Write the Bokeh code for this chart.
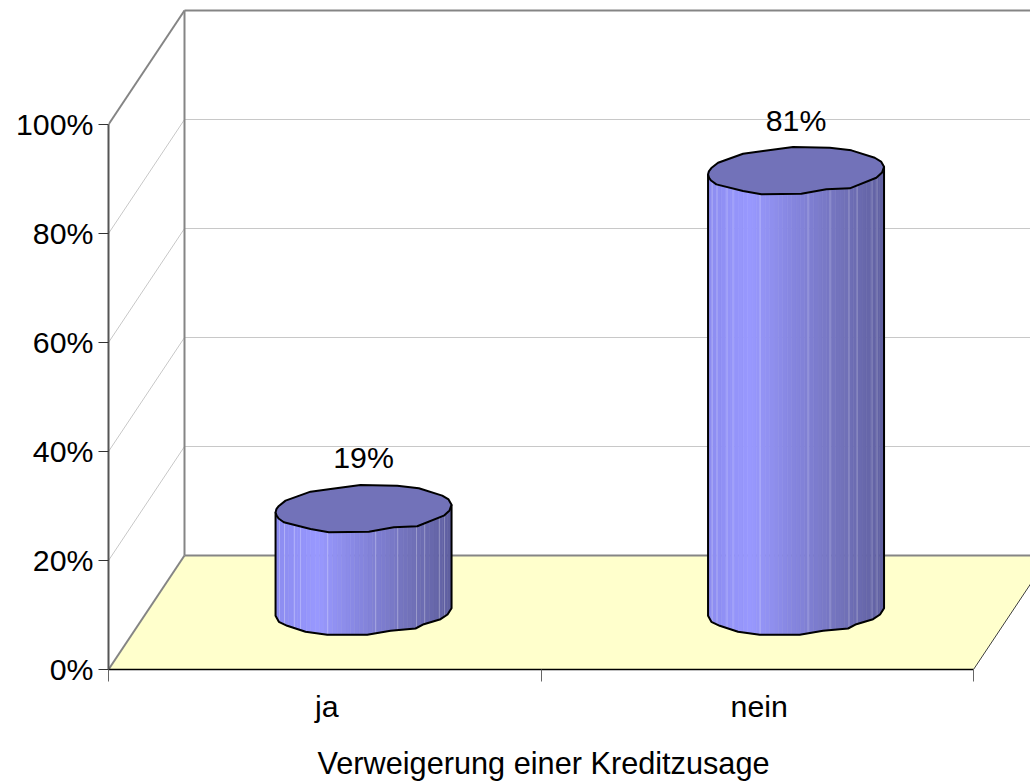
import numpy as np
from bokeh.embed import file_html
from bokeh.models import FixedTicker, LinearAxis, Range1d, Title
from bokeh.plotting import figure
from bokeh.resources import INLINE
from bokeh.core.properties import value

categories = ["ja", "nein"]
values = [19, 81]
value_labels = ["19%", "81%"]
y_ticks = [0, 20, 40, 60, 80, 100]
y_tick_labels = ["0%", "20%", "40%", "60%", "80%", "100%"]
x_title = "Verweigerung einer Kreditzusage"

FONT = "Liberation Sans"
FS = "30.3px"
SX, SY = 432.5, 5.45          # pixels per category / per percent
DEPTH_X, DEPTH_Y = 76 / SX, 114 / SY

# outline of the faceted cylinder cap, in pixels around its centre
cap_dx = np.array([-88, -87, -84.7, -78, -53, -33, -3, 33.7, 55.3, 78.7, 85, 88, 86, 80.3, 53.7, 30.3, 5.3, -34.7, -53, -79.7, -85, -87])
cap_dy = np.array([3.3, 0, -3, -8.3, -17.3, -20, -24, -23.3, -20.7, -13.3, -9.5, -4.3, 1.5, 6.7, 17.3, 18.3, 22.7, 23.3, 20, 13.3, 9.5, 6.7])
front_dx = np.array([-88, -84.7, -76.3, -58, -36.3, 3.7, 27, 52, 60.3, 77, 84, 88])
front_dy = np.array([3.3, 9.3, 13.3, 19.3, 22.3, 22.3, 18.3, 16, 11.7, 6.7, 2, -4.3])
seams = [-84, -79, -69, -63, -36, 12, 34, 53, 61, 76, 81]

p = figure(frame_width=922, frame_height=669, min_border_left=108, min_border_bottom=115,
           min_border_top=0, min_border_right=0, output_backend="svg", toolbar_location=None,
           x_range=Range1d(0, 922 / SX), y_range=Range1d(0, 669 / SY),
           x_axis_type=None, y_axis_type=None, outline_line_color=None,
           background_fill_color="white", border_fill_color="white")
p.grid.visible = False

far = len(categories) + DEPTH_X + 0.2
n = len(categories)

# floor
p.patch([0, n, n + DEPTH_X, DEPTH_X], [0, 0, DEPTH_Y, DEPTH_Y], fill_color="#FFFFCC", line_color=None)

# grid lines on the side and back walls
for t in y_ticks[1:-1]:
    p.line([0, DEPTH_X, far], [t, t + DEPTH_Y, t + DEPTH_Y], line_color="#C8C8C8", line_width=1)

# wall edges
wall = dict(line_color="#858585", line_width=2)
p.line([0, DEPTH_X], [100, 100 + DEPTH_Y], **wall)
p.line([DEPTH_X, far], [100 + DEPTH_Y, 100 + DEPTH_Y], **wall)
p.line([DEPTH_X, DEPTH_X], [DEPTH_Y, 100 + DEPTH_Y], **wall)
p.line([0, DEPTH_X], [0, DEPTH_Y], **wall)
p.line([DEPTH_X, far], [DEPTH_Y, DEPTH_Y], **wall)
p.line([n, n + DEPTH_X], [0, DEPTH_Y], line_color="#404040", line_width=1)

# cylinders
stops = [0.0, 0.24, 0.5, 0.75, 1.0]
reds = [140, 153, 133, 115, 96]
blues = [240, 255, 221, 188, 160]
edges = np.linspace(-88, 88, 41)
for i, v in enumerate(values):
    cx = i + 0.5 + DEPTH_X / 2 + 0.8 / SX
    base = DEPTH_Y / 2
    top = base + v
    xs, ys, cols = [], [], []
    for a, b in zip(edges[:-1], edges[1:]):
        grid = np.linspace(a, b, 4)
        bottom = base - np.interp(grid, front_dx, front_dy) / SY
        xs.append(list(cx + grid / SX) + [cx + b / SX, cx + a / SX])
        ys.append(list(bottom) + [top, top])
        f = ((a + b) / 2 + 88) / 176
        r = int(np.interp(f, stops, reds))
        bl = int(np.interp(f, stops, blues))
        cols.append(f"#{r:02x}{r:02x}{bl:02x}")
    p.patches(xs, ys, fill_color=cols, line_color=cols, line_width=0.6)
    for s in seams:
        low = base - np.interp(s, front_dx, front_dy) / SY
        p.line([cx + s / SX] * 2, [low, top], line_color="white", line_alpha=0.28, line_width=1)
    out_x = np.concatenate([[-88], front_dx, [88]])
    out_y = np.concatenate([[cap_dy[0] - v * SY], front_dy, [-4.3 - v * SY]])
    p.line(cx + out_x / SX, base - out_y / SY, line_color="black", line_width=2, line_join="round")
    p.patch(cx + cap_dx / SX, top - cap_dy / SY, fill_color="#7272B9", line_color="black", line_width=2,
            line_join="round")

# value labels
p.text([i + 0.5 + DEPTH_X / 2 + 0.8 / SX for i in range(n)], [DEPTH_Y / 2 + v for v in values],
       text=value_labels, text_font=value(FONT), text_font_size=FS, text_color="black",
       text_align="center", text_baseline="middle", y_offset=-51)

# axes
ya = LinearAxis(ticker=FixedTicker(ticks=y_ticks), bounds=(0, 100),
                major_label_overrides={t: l for t, l in zip(y_ticks, y_tick_labels)},
                major_label_text_font=FONT, major_label_text_font_size=FS, major_label_text_color="black",
                axis_line_color="#555555", axis_line_width=2, major_tick_line_color="#333333",
                major_tick_out=10, major_tick_in=0, minor_tick_line_color=None, major_label_standoff=5)
p.add_layout(ya, "left")

label_ticks = [i + 0.5 + 2 / SX for i in range(n)]
xa = LinearAxis(ticker=FixedTicker(ticks=label_ticks, minor_ticks=list(range(n + 1))),
                bounds=(0, n),
                major_label_overrides={t: c for t, c in zip(label_ticks, categories)},
                major_label_text_font=FONT, major_label_text_font_size=FS, major_label_text_color="black",
                axis_line_color="black", axis_line_width=1.5, major_tick_line_color=None,
                minor_tick_line_color="#666666", minor_tick_out=12, minor_tick_in=0, major_tick_out=0, major_tick_in=0,
                major_label_standoff=8)
p.add_layout(xa, "below")

p.add_layout(Title(text=x_title, text_font=FONT, text_font_size="30.7px", text_font_style="normal",
                   text_color="black", align="left", offset=209, standoff=37), "below")

open("out.html", "w").write(file_html(p, INLINE))
